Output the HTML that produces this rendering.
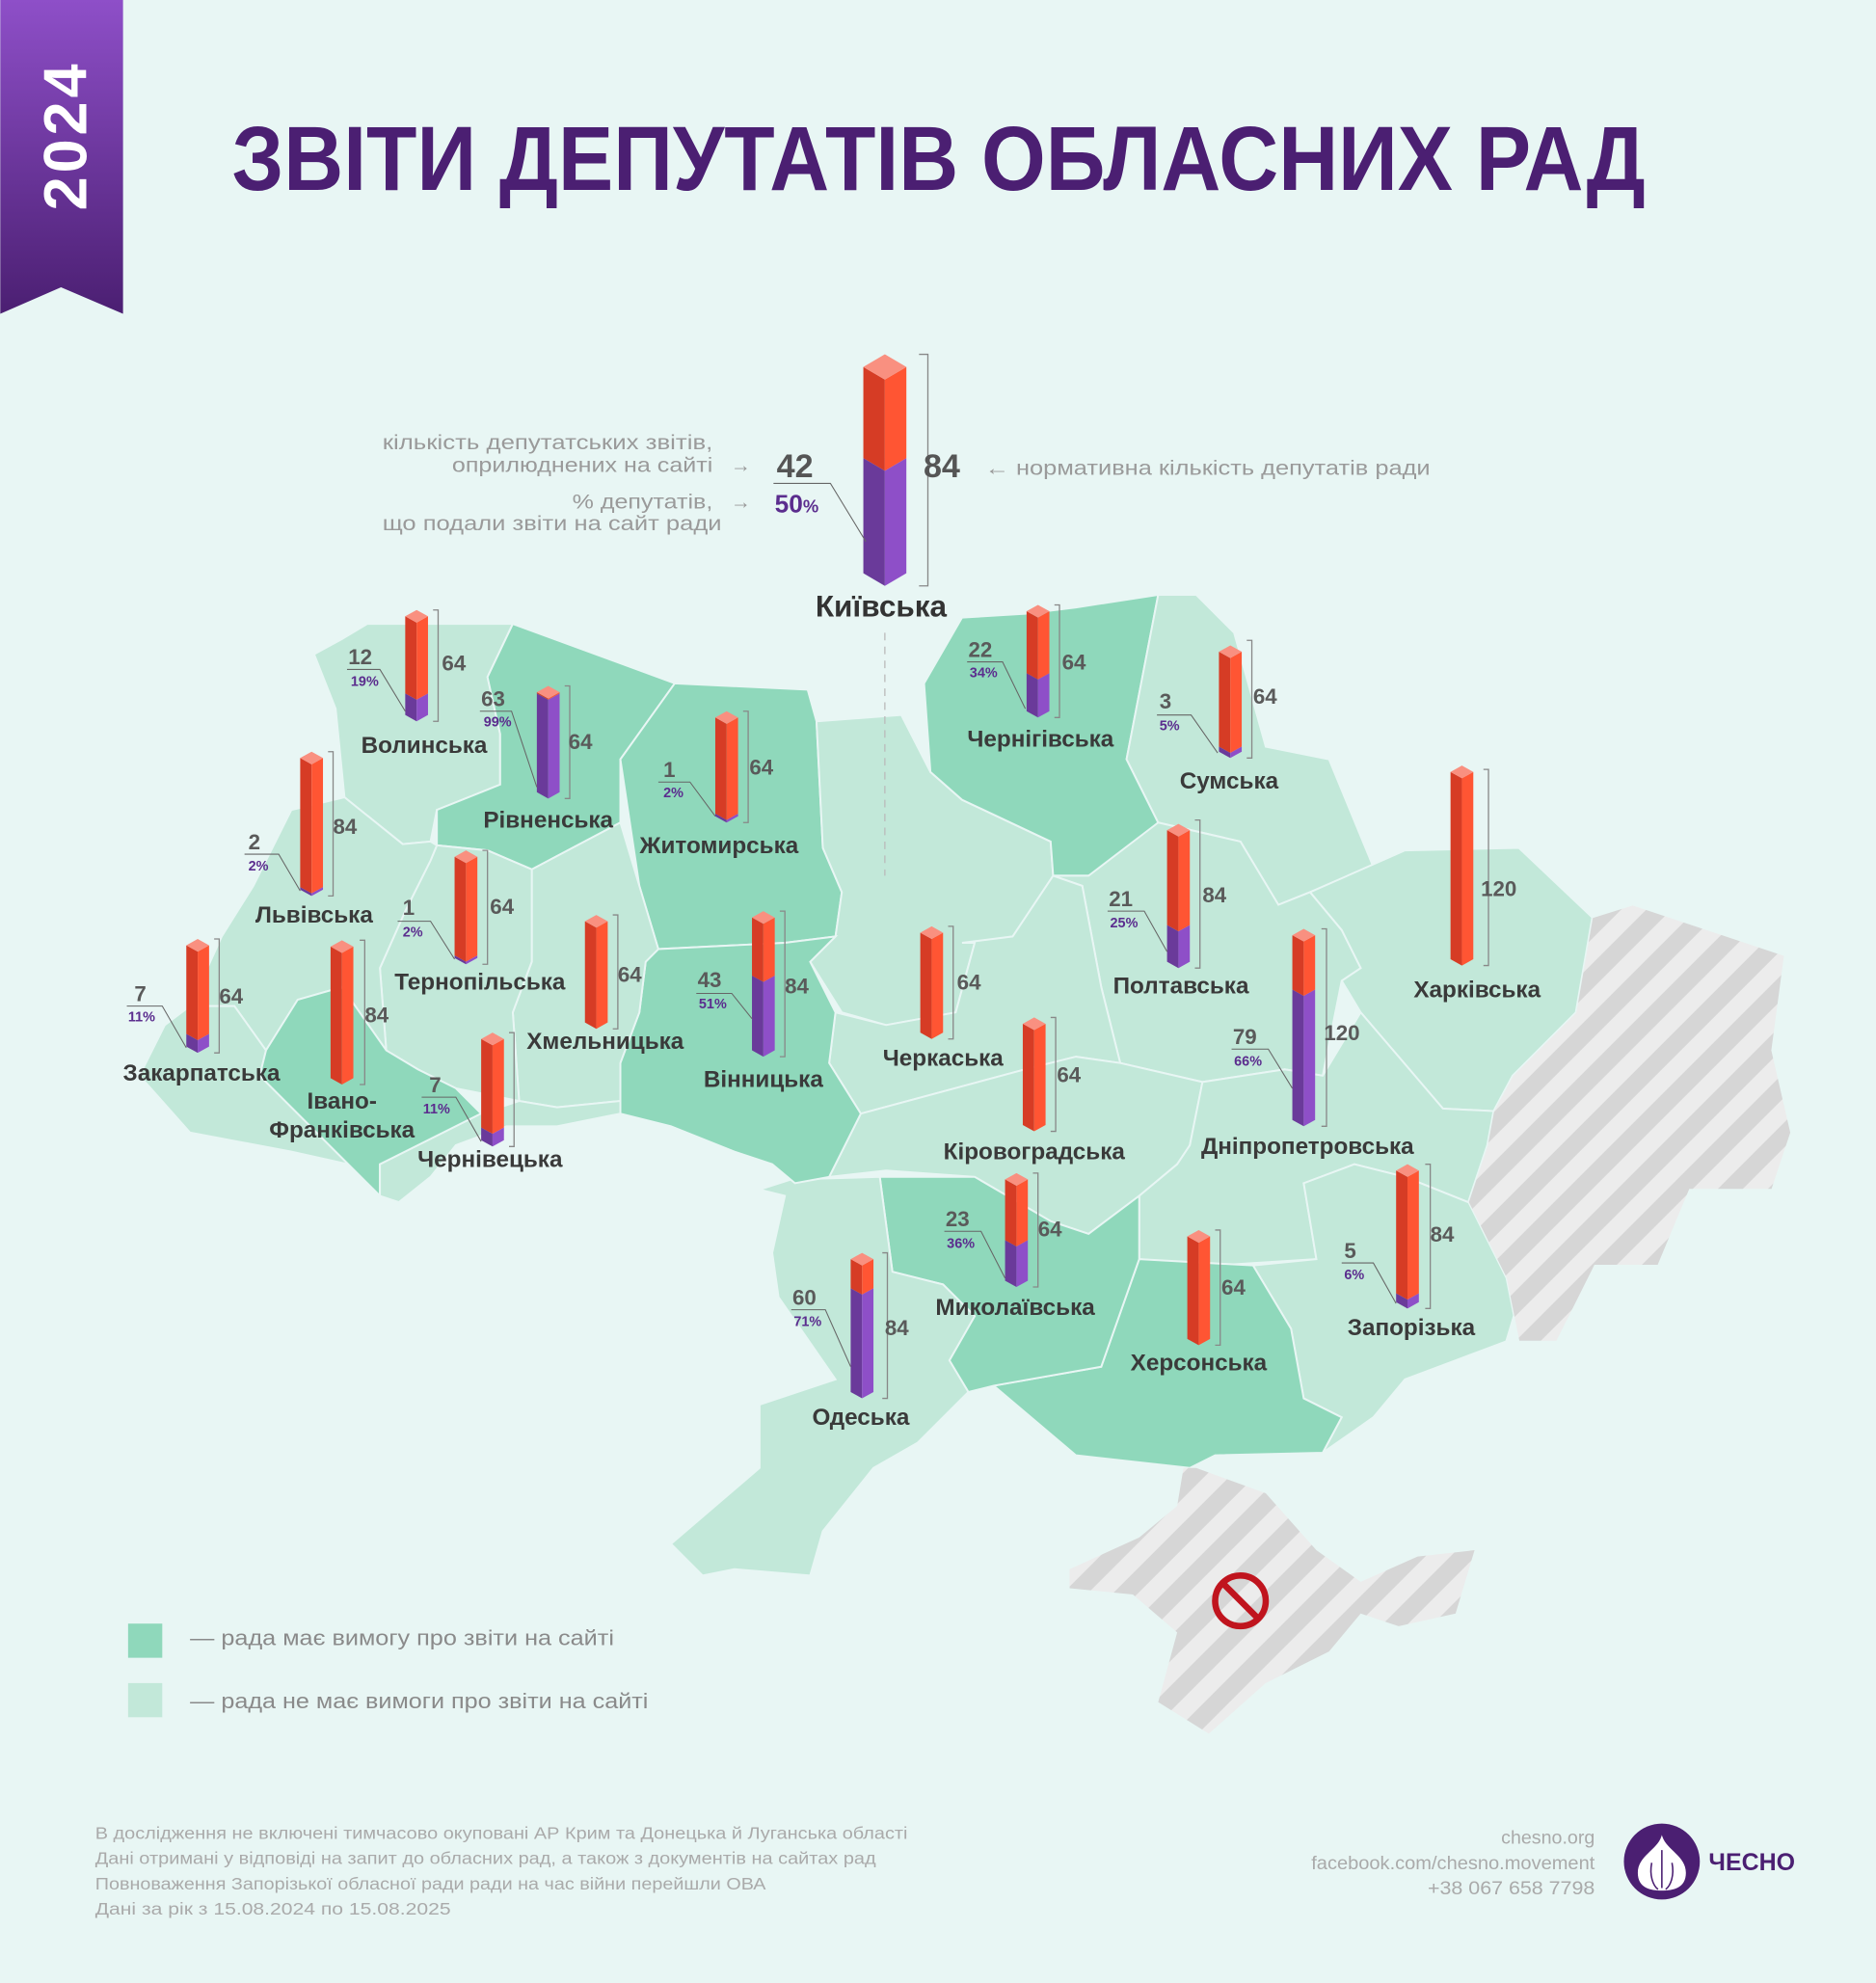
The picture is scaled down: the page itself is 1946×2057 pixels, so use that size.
<!DOCTYPE html>
<html><head><meta charset="utf-8">
<style>
html,body{margin:0;padding:0;background:#e8f6f4;}
svg{display:block;}
text{font-family:"Liberation Sans",sans-serif;}
.lb{font-size:18.5px;font-weight:bold;fill:#3a3a3a;text-anchor:middle;}
.n{font-size:17px;font-weight:bold;fill:#5a5a5a;}
.p{font-size:11px;font-weight:bold;fill:#5b2d8e;}
.g{font-size:16px;fill:#9a9a9a;}
.f{font-size:13.5px;fill:#aaaaaa;}
.rl{fill:#d63c25}.rr{fill:#ff5533}.tp{fill:#f99080}.pl{fill:#6a3a9a}.pr{fill:#8e4fc8}
.br{fill:none;stroke:#888;stroke-width:1}
.ld{fill:none;stroke:#666;stroke-width:0.8}
.dk{fill:#8fd8bb;stroke:#e8f6f4;stroke-width:1.5}
.lt{fill:#c2e8d9;stroke:#e8f6f4;stroke-width:1.5}
</style></head><body>
<svg width="1946" height="2057" viewBox="0 0 1482 1567" xmlns="http://www.w3.org/2000/svg">
<defs>
<linearGradient id="rib" x1="0" y1="0" x2="0" y2="1"><stop offset="0" stop-color="#8e4fc8"/><stop offset="1" stop-color="#4b1f72"/></linearGradient>
<pattern id="st" width="28" height="28" patternUnits="userSpaceOnUse" patternTransform="rotate(45)"><rect width="28" height="28" fill="#ececec"/><rect width="14" height="28" fill="#d6d6d6"/></pattern>
</defs>
<rect width="1482" height="1567" fill="#e8f6f4"/>
<polygon points="0,0 97,0 97,248 48,227 0,248" fill="url(#rib)"/>
<text transform="translate(68,107) rotate(-90)" text-anchor="middle" style="font-size:48px;font-weight:bold;fill:#fff;letter-spacing:3px">2024</text>
<text x="183" y="150" textLength="1117" lengthAdjust="spacingAndGlyphs" style="font-size:72px;font-weight:bold;fill:#4b1f72">ЗВІТИ ДЕПУТАТІВ ОБЛАСНИХ РАД</text>

<!-- regions -->
<polygon class="lt" points="248,517 270,505 290,493 405,493 385,535 395,580 395,620 345,640 340,665 318,667 272,630 265,560"/>
<polygon class="dk" points="405,493 533,540 490,600 490,650 420,687 385,672 345,668 345,640 395,620 395,580 385,535"/>
<polygon class="dk" points="533,540 638,545 645,570 650,670 665,705 660,740 620,745 520,750 505,700 490,600"/>
<polygon class="lt" points="645,570 712,565 735,610 760,632 830,665 832,692 800,740 770,745 755,800 700,810 665,800 640,760 660,740 665,705 650,670"/>
<polygon class="dk" points="760,488 810,485 850,480 915,470 890,600 915,650 885,680 860,692 832,692 830,665 760,632 735,610 730,540"/>
<polygon class="lt" points="915,470 945,470 975,500 1000,590 1050,600 1085,685 1035,705 1010,715 980,665 915,650 890,600"/>
<polygon class="lt" points="1035,705 1110,672 1200,670 1258,725 1245,800 1195,850 1180,878 1140,876 1105,835 1075,800 1060,775 1075,765 1060,735"/>
<polygon class="lt" points="832,692 860,692 915,650 980,665 1010,715 1035,705 1060,735 1075,765 1060,775 1045,850 1015,845 950,855 885,840 870,780 855,700"/>
<polygon class="lt" points="760,745 800,740 832,692 855,700 870,780 885,840 850,835 810,845 680,880 655,840 660,800 700,810 755,800 770,745"/>
<polygon class="lt" points="680,880 810,845 850,835 885,840 950,855 940,905 930,920 900,945 860,975 830,965 770,930 700,925 655,930"/>
<polygon class="lt" points="950,855 1015,845 1045,850 1075,800 1105,835 1140,876 1180,878 1175,905 1160,950 1110,930 1070,920 1030,935 1040,995 960,1000 900,995 900,945 930,920 940,905"/>
<polygon class="lt" points="1030,935 1070,920 1110,930 1160,950 1200,975 1205,1010 1190,1060 1150,1075 1110,1090 1085,1120 1045,1148 1060,1120 1030,1105 1020,1050 990,1000 1040,995"/>
<polygon class="dk" points="900,995 990,1000 1020,1050 1030,1105 1060,1120 1045,1148 960,1150 940,1160 850,1150 785,1095 870,1080"/>
<polygon class="dk" points="695,930 770,930 830,965 860,975 900,945 900,995 870,1080 785,1095 765,1100 750,1075 770,1040 745,1015 705,1005"/>
<polygon class="lt" points="600,940 625,932 695,930 705,1005 745,1015 770,1040 750,1075 765,1100 725,1140 690,1160 650,1210 640,1245 580,1240 555,1245 530,1220 600,1160 600,1110 660,1090 615,1025 610,990 620,945"/>
<polygon class="dk" points="520,750 620,745 660,740 640,760 660,800 655,840 680,880 655,930 628,935 610,920 580,910 530,890 490,880 490,840 505,800 510,760"/>
<polygon class="lt" points="420,687 490,650 505,700 520,750 510,760 505,800 490,840 490,870 440,875 410,870 405,800 420,760"/>
<polygon class="lt" points="345,668 385,672 420,687 420,760 405,800 410,870 360,860 330,845 305,830 300,765 320,720 340,680"/>
<polygon class="lt" points="272,630 318,667 340,665 345,668 340,680 320,720 300,765 305,830 270,780 235,790 210,830 185,795 150,795 175,740 200,700 230,640"/>
<polygon class="lt" points="150,795 185,795 210,830 205,850 275,920 230,910 150,895 110,850 130,810"/>
<polygon class="dk" points="235,790 270,780 305,830 330,845 360,860 380,880 330,905 300,920 300,945 275,920 205,850 210,830"/>
<polygon class="lt" points="300,920 330,905 380,880 410,870 440,875 490,870 490,880 440,890 400,890 360,905 340,930 315,950 300,945"/>
<polygon fill="url(#st)" stroke="#e8f6f4" points="1258,725 1290,715 1410,755 1400,830 1415,895 1400,940 1335,940 1310,1000 1260,1000 1230,1060 1200,1060 1190,1010 1160,950 1175,905 1180,878 1195,850 1245,800"/>
<polygon fill="url(#st)" points="935,1160 945,1160 1000,1180 1040,1225 1075,1250 1120,1230 1165,1225 1150,1275 1105,1285 1075,1275 1050,1305 1000,1330 955,1370 915,1345 930,1290 895,1260 845,1255 845,1240 900,1215 930,1190"/>
<circle cx="980" cy="1265" r="20" fill="none" stroke="#c0141e" stroke-width="5"/>
<line x1="966" y1="1251" x2="994" y2="1279" stroke="#c0141e" stroke-width="5"/>

<line x1="699" y1="500" x2="699" y2="692" stroke="#bbb" stroke-dasharray="6,5"/>

<!-- Kyiv legend bar -->
<g transform="translate(699,280)">
<polygon class="rl" points="-17,10 0,20 0,92 -17,82"/><polygon class="rr" points="0,20 17,10 17,82 0,92"/>
<polygon class="pl" points="-17,82 0,92 0,183 -17,173"/><polygon class="pr" points="0,92 17,82 17,173 0,183"/>
<polygon class="tp" points="-17,10 0,0 17,10 0,20"/>
</g>
<path class="br" d="M726,280 h7 V463 h-7"/>
<text x="628" y="377" text-anchor="middle" style="font-size:26px;font-weight:bold;fill:#555">42</text>
<text x="744" y="377" text-anchor="middle" style="font-size:26px;font-weight:bold;fill:#555">84</text>
<text x="612" y="405" style="font-size:20px;font-weight:bold;fill:#5b2d8e">50<tspan style="font-size:14px">%</tspan></text>
<path class="ld" d="M611,382 H656 L684,428"/>
<text class="g" x="302" y="355" textLength="261" lengthAdjust="spacingAndGlyphs">кількість депутатських звітів,</text>
<text class="g" x="357" y="373" textLength="206" lengthAdjust="spacingAndGlyphs">оприлюднених на сайті</text>
<text class="g" x="577" y="373">→</text>
<text class="g" x="452" y="402" textLength="111" lengthAdjust="spacingAndGlyphs">% депутатів,</text>
<text class="g" x="302" y="419" textLength="268" lengthAdjust="spacingAndGlyphs">що подали звіти на сайт ради</text>
<text class="g" x="577" y="402">→</text>
<text class="g" x="778" y="375" textLength="352" lengthAdjust="spacingAndGlyphs">← нормативна кількість депутатів ради</text>
<text x="696" y="487" text-anchor="middle" style="font-size:24px;font-weight:bold;fill:#333">Київська</text>

<!-- Volyn -->
<g transform="translate(329,482)"><polygon class="rl" points="-9,5 0,10 0,71 -9,66"/><polygon class="rr" points="0,10 9,5 9,66 0,71"/><polygon class="pl" points="-9,66 0,71 0,88 -9,83"/><polygon class="pr" points="0,71 9,66 9,83 0,88"/><polygon class="tp" points="-9,5 0,0 9,5 0,10"/></g>
<path class="br" d="M342,482 h4 V570 h-4"/><text class="n" x="349" y="530">64</text>
<text class="n" x="275" y="525">12</text><text class="p" x="277" y="542">19%</text><path class="ld" d="M274,529 H300 L320,562"/>
<text class="lb" x="335" y="595">Волинська</text>
<!-- Rivne -->
<g transform="translate(433,542)"><polygon class="rl" points="-9,5 0,10 0,11 -9,6"/><polygon class="rr" points="0,10 9,5 9,6 0,11"/><polygon class="pl" points="-9,6 0,11 0,89 -9,84"/><polygon class="pr" points="0,11 9,6 9,84 0,89"/><polygon class="tp" points="-9,5 0,0 9,5 0,10"/></g>
<path class="br" d="M446,542 h4 V631 h-4"/><text class="n" x="449" y="592">64</text>
<text class="n" x="380" y="558">63</text><text class="p" x="382" y="574">99%</text><path class="ld" d="M379,562 H404 L424,622"/>
<text class="lb" x="433" y="654">Рівненська</text>
<!-- Zhytomyr -->
<g transform="translate(574,562)"><polygon class="rl" points="-9,5 0,10 0,86 -9,81"/><polygon class="rr" points="0,10 9,5 9,81 0,86"/><polygon class="pl" points="-9,81 0,86 0,88 -9,83"/><polygon class="pr" points="0,86 9,81 9,83 0,88"/><polygon class="tp" points="-9,5 0,0 9,5 0,10"/></g>
<path class="br" d="M587,562 h4 V650 h-4"/><text class="n" x="592" y="612">64</text>
<text class="n" x="524" y="614">1</text><text class="p" x="524" y="630">2%</text><path class="ld" d="M520,618 H545 L565,645"/>
<text class="lb" x="568" y="674">Житомирська</text>
<!-- Chernihiv -->
<g transform="translate(820,478)"><polygon class="rl" points="-9,5 0,10 0,59 -9,54"/><polygon class="rr" points="0,10 9,5 9,54 0,59"/><polygon class="pl" points="-9,54 0,59 0,89 -9,84"/><polygon class="pr" points="0,59 9,54 9,84 0,89"/><polygon class="tp" points="-9,5 0,0 9,5 0,10"/></g>
<path class="br" d="M833,478 h4 V567 h-4"/><text class="n" x="839" y="529">64</text>
<text class="n" x="765" y="519">22</text><text class="p" x="766" y="535">34%</text><path class="ld" d="M764,523 H792 L810,560"/>
<text class="lb" x="822" y="590">Чернігівська</text>
<!-- Sumy -->
<g transform="translate(972,510)"><polygon class="rl" points="-9,5 0,10 0,85 -9,80"/><polygon class="rr" points="0,10 9,5 9,80 0,85"/><polygon class="pl" points="-9,80 0,85 0,89 -9,84"/><polygon class="pr" points="0,85 9,80 9,84 0,89"/><polygon class="tp" points="-9,5 0,0 9,5 0,10"/></g>
<path class="br" d="M985,506 h4 V599 h-4"/><text class="n" x="990" y="556">64</text>
<text class="n" x="916" y="560">3</text><text class="p" x="916" y="577">5%</text><path class="ld" d="M914,565 H941 L962,595"/>
<text class="lb" x="971" y="623">Сумська</text>
<!-- Lviv -->
<g transform="translate(246,594)"><polygon class="rl" points="-9,5 0,10 0,112 -9,107"/><polygon class="rr" points="0,10 9,5 9,107 0,112"/><polygon class="pl" points="-9,107 0,112 0,114 -9,109"/><polygon class="pr" points="0,112 9,107 9,109 0,114"/><polygon class="tp" points="-9,5 0,0 9,5 0,10"/></g>
<path class="br" d="M259,594 h4 V708 h-4"/><text class="n" x="263" y="659">84</text>
<text class="n" x="196" y="671">2</text><text class="p" x="196" y="688">2%</text><path class="ld" d="M193,675 H220 L237,704"/>
<text class="lb" x="248" y="729">Львівська</text>
<!-- Ternopil -->
<g transform="translate(368,672)"><polygon class="rl" points="-9,5 0,10 0,88 -9,83"/><polygon class="rr" points="0,10 9,5 9,83 0,88"/><polygon class="pl" points="-9,83 0,88 0,90 -9,85"/><polygon class="pr" points="0,88 9,83 9,85 0,90"/><polygon class="tp" points="-9,5 0,0 9,5 0,10"/></g>
<path class="br" d="M381,672 h4 V762 h-4"/><text class="n" x="387" y="722">64</text>
<text class="n" x="318" y="723">1</text><text class="p" x="318" y="740">2%</text><path class="ld" d="M314,728 H340 L359,758"/>
<text class="lb" x="379" y="782">Тернопільська</text>
<!-- Khmelnytskyi -->
<g transform="translate(471,723)"><polygon class="rl" points="-9,5 0,10 0,90 -9,85"/><polygon class="rr" points="0,10 9,5 9,85 0,90"/><polygon class="tp" points="-9,5 0,0 9,5 0,10"/></g>
<path class="br" d="M484,723 h4 V813 h-4"/><text class="n" x="488" y="776">64</text>
<text class="lb" x="478" y="829">Хмельницька</text>
<!-- Vinnytsia -->
<g transform="translate(603,720)"><polygon class="rl" points="-9,5 0,10 0,56 -9,51"/><polygon class="rr" points="0,10 9,5 9,51 0,56"/><polygon class="pl" points="-9,51 0,56 0,115 -9,110"/><polygon class="pr" points="0,56 9,51 9,110 0,115"/><polygon class="tp" points="-9,5 0,0 9,5 0,10"/></g>
<path class="br" d="M616,720 h4 V835 h-4"/><text class="n" x="620" y="785">84</text>
<text class="n" x="551" y="780">43</text><text class="p" x="552" y="797">51%</text><path class="ld" d="M550,785 H578 L594,805"/>
<text class="lb" x="603" y="859">Вінницька</text>
<!-- Cherkasy -->
<g transform="translate(736,732)"><polygon class="rl" points="-9,5 0,10 0,89 -9,84"/><polygon class="rr" points="0,10 9,5 9,84 0,89"/><polygon class="tp" points="-9,5 0,0 9,5 0,10"/></g>
<path class="br" d="M749,732 h4 V821 h-4"/><text class="n" x="756" y="782">64</text>
<text class="lb" x="745" y="842">Черкаська</text>
<!-- Poltava -->
<g transform="translate(931,651)"><polygon class="rl" points="-9,5 0,10 0,85 -9,80"/><polygon class="rr" points="0,10 9,5 9,80 0,85"/><polygon class="pl" points="-9,80 0,85 0,114 -9,109"/><polygon class="pr" points="0,85 9,80 9,109 0,114"/><polygon class="tp" points="-9,5 0,0 9,5 0,10"/></g>
<path class="br" d="M944,648 h4 V765 h-4"/><text class="n" x="950" y="713">84</text>
<text class="n" x="876" y="716">21</text><text class="p" x="877" y="733">25%</text><path class="ld" d="M875,720 H904 L922,752"/>
<text class="lb" x="933" y="785">Полтавська</text>
<!-- Kharkiv -->
<g transform="translate(1155,605)"><polygon class="rl" points="-9,5 0,10 0,158 -9,153"/><polygon class="rr" points="0,10 9,5 9,153 0,158"/><polygon class="tp" points="-9,5 0,0 9,5 0,10"/></g>
<path class="br" d="M1172,608 h4 V763 h-4"/><text class="n" x="1170" y="708">120</text>
<text class="lb" x="1167" y="788">Харківська</text>
<!-- Dnipro -->
<g transform="translate(1030,734)"><polygon class="rl" points="-9,5 0,10 0,53 -9,48"/><polygon class="rr" points="0,10 9,5 9,48 0,53"/><polygon class="pl" points="-9,48 0,53 0,156 -9,151"/><polygon class="pr" points="0,53 9,48 9,151 0,156"/><polygon class="tp" points="-9,5 0,0 9,5 0,10"/></g>
<path class="br" d="M1044,734 h4 V890 h-4"/><text class="n" x="1046" y="822">120</text>
<text class="n" x="974" y="825">79</text><text class="p" x="975" y="842">66%</text><path class="ld" d="M973,829 H1002 L1021,860"/>
<text class="lb" x="1033" y="912">Дніпропетровська</text>
<!-- Zakarpattia -->
<g transform="translate(156,742)"><polygon class="rl" points="-9,5 0,10 0,80 -9,75"/><polygon class="rr" points="0,10 9,5 9,75 0,80"/><polygon class="pl" points="-9,75 0,80 0,90 -9,85"/><polygon class="pr" points="0,80 9,75 9,85 0,90"/><polygon class="tp" points="-9,5 0,0 9,5 0,10"/></g>
<path class="br" d="M169,742 h4 V832 h-4"/><text class="n" x="173" y="793">64</text>
<text class="n" x="106" y="791">7</text><text class="p" x="101" y="807">11%</text><path class="ld" d="M100,795 H128 L147,828"/>
<text class="lb" x="159" y="854">Закарпатська</text>
<!-- Ivano-Frankivsk -->
<g transform="translate(270,743)"><polygon class="rl" points="-9,5 0,10 0,114 -9,109"/><polygon class="rr" points="0,10 9,5 9,109 0,114"/><polygon class="tp" points="-9,5 0,0 9,5 0,10"/></g>
<path class="br" d="M284,743 h4 V857 h-4"/><text class="n" x="288" y="808">84</text>
<text class="lb" x="270" y="876">Івано-</text><text class="lb" x="270" y="899">Франківська</text>
<!-- Chernivtsi -->
<g transform="translate(389,816)"><polygon class="rl" points="-9,5 0,10 0,80 -9,75"/><polygon class="rr" points="0,10 9,5 9,75 0,80"/><polygon class="pl" points="-9,75 0,80 0,90 -9,85"/><polygon class="pr" points="0,80 9,75 9,85 0,90"/><polygon class="tp" points="-9,5 0,0 9,5 0,10"/></g>
<path class="br" d="M402,816 h4 V906 h-4"/>
<text class="n" x="339" y="863">7</text><text class="p" x="334" y="880">11%</text><path class="ld" d="M333,867 H360 L380,902"/>
<text class="lb" x="387" y="922">Чернівецька</text>
<!-- Kirovohrad -->
<g transform="translate(817,804)"><polygon class="rl" points="-9,5 0,10 0,90 -9,85"/><polygon class="rr" points="0,10 9,5 9,85 0,90"/><polygon class="tp" points="-9,5 0,0 9,5 0,10"/></g>
<path class="br" d="M830,804 h4 V894 h-4"/><text class="n" x="835" y="855">64</text>
<text class="lb" x="817" y="916">Кіровоградська</text>
<!-- Mykolaiv -->
<g transform="translate(803,927)"><polygon class="rl" points="-9,5 0,10 0,58 -9,53"/><polygon class="rr" points="0,10 9,5 9,53 0,58"/><polygon class="pl" points="-9,53 0,58 0,90 -9,85"/><polygon class="pr" points="0,58 9,53 9,85 0,90"/><polygon class="tp" points="-9,5 0,0 9,5 0,10"/></g>
<path class="br" d="M816,927 h4 V1017 h-4"/><text class="n" x="820" y="977">64</text>
<text class="n" x="747" y="969">23</text><text class="p" x="748" y="986">36%</text><path class="ld" d="M746,973 H775 L794,1010"/>
<text class="lb" x="802" y="1039">Миколаївська</text>
<!-- Kherson -->
<g transform="translate(947,972)"><polygon class="rl" points="-9,5 0,10 0,91 -9,86"/><polygon class="rr" points="0,10 9,5 9,86 0,91"/><polygon class="tp" points="-9,5 0,0 9,5 0,10"/></g>
<path class="br" d="M960,972 h4 V1063 h-4"/><text class="n" x="965" y="1023">64</text>
<text class="lb" x="947" y="1083">Херсонська</text>
<!-- Zaporizhzhia -->
<g transform="translate(1112,920)"><polygon class="rl" points="-9,5 0,10 0,107 -9,102"/><polygon class="rr" points="0,10 9,5 9,102 0,107"/><polygon class="pl" points="-9,102 0,107 0,114 -9,109"/><polygon class="pr" points="0,107 9,102 9,109 0,114"/><polygon class="tp" points="-9,5 0,0 9,5 0,10"/></g>
<path class="br" d="M1126,920 h4 V1034 h-4"/><text class="n" x="1130" y="981">84</text>
<text class="n" x="1062" y="994">5</text><text class="p" x="1062" y="1011">6%</text><path class="ld" d="M1060,998 H1085 L1103,1030"/>
<text class="lb" x="1115" y="1055">Запорізька</text>
<!-- Odesa -->
<g transform="translate(681,990)"><polygon class="rl" points="-9,5 0,10 0,33 -9,28"/><polygon class="rr" points="0,10 9,5 9,28 0,33"/><polygon class="pl" points="-9,28 0,33 0,115 -9,110"/><polygon class="pr" points="0,33 9,28 9,110 0,115"/><polygon class="tp" points="-9,5 0,0 9,5 0,10"/></g>
<path class="br" d="M697,990 h4 V1105 h-4"/><text class="n" x="699" y="1055">84</text>
<text class="n" x="626" y="1031">60</text><text class="p" x="627" y="1048">71%</text><path class="ld" d="M625,1035 H652 L672,1080"/>
<text class="lb" x="680" y="1126">Одеська</text>

<!-- legend -->
<rect x="101" y="1283" width="27" height="27" fill="#8fd8bb"/>
<rect x="101" y="1330" width="27" height="27" fill="#c2e8d9"/>
<text x="150" y="1300" textLength="335" lengthAdjust="spacingAndGlyphs" style="font-size:17px;fill:#8a8a8a">— рада має вимогу про звіти на сайті</text>
<text x="150" y="1350" textLength="362" lengthAdjust="spacingAndGlyphs" style="font-size:17px;fill:#8a8a8a">— рада не має вимоги про звіти на сайті</text>

<!-- footer -->
<text class="f" x="75" y="1453" textLength="642" lengthAdjust="spacingAndGlyphs">В дослідження не включені тимчасово окуповані АР Крим та Донецька й Луганська області</text>
<text class="f" x="75" y="1473" textLength="617" lengthAdjust="spacingAndGlyphs">Дані отримані у відповіді на запит до обласних рад, а також з документів на сайтах рад</text>
<text class="f" x="75" y="1493" textLength="530" lengthAdjust="spacingAndGlyphs">Повноваження Запорізької обласної ради ради на час війни перейшли ОВА</text>
<text class="f" x="75" y="1513" textLength="281" lengthAdjust="spacingAndGlyphs">Дані за рік з 15.08.2024 по 15.08.2025</text>
<text class="f" x="1186" y="1457" textLength="74" lengthAdjust="spacingAndGlyphs" style="font-size:14.5px">chesno.org</text>
<text class="f" x="1036" y="1477" textLength="224" lengthAdjust="spacingAndGlyphs" style="font-size:14.5px">facebook.com/chesno.movement</text>
<text class="f" x="1128" y="1497" textLength="132" lengthAdjust="spacingAndGlyphs" style="font-size:14.5px">+38 067 658 7798</text>
<circle cx="1313" cy="1471" r="30" fill="#4b1f72"/>
<path d="M1313,1450 C1316,1462 1332,1466 1332,1480 C1332,1492 1322,1494 1313,1494 C1304,1494 1294,1492 1294,1480 C1294,1466 1310,1462 1313,1450Z" fill="#fff"/>
<path d="M1313,1462 V1492 M1305,1472 C1303,1482 1306,1490 1310,1493 M1321,1472 C1323,1482 1320,1490 1316,1493" stroke="#4b1f72" stroke-width="1.2" fill="none"/>
<text x="1350" y="1478" style="font-size:19px;font-weight:bold;fill:#4b1f72">ЧЕСНО</text>
</svg>
</body></html>
